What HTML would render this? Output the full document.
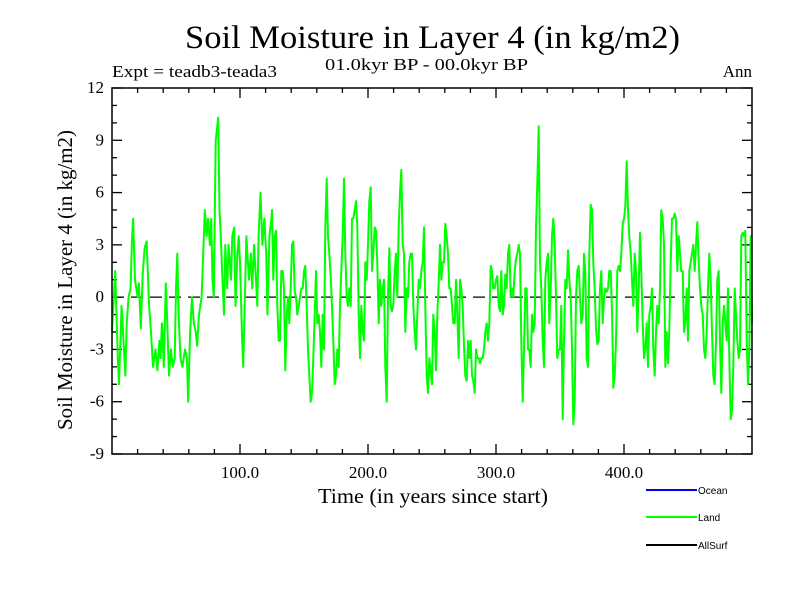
<!DOCTYPE html>
<html><head><meta charset="utf-8"><style>
body{margin:0;background:#fff;}
svg{display:block;font-family:"Liberation Serif",serif;}
</style></head><body>
<svg id="chart" width="800" height="600" viewBox="0 0 800 600" xmlns="http://www.w3.org/2000/svg">
<rect width="800" height="600" fill="#fff"/>
<text x="185" y="48" font-size="33" textLength="495" lengthAdjust="spacingAndGlyphs">Soil Moisture in Layer 4 (in kg/m2)</text>
<text x="325" y="70" font-size="17" textLength="203" lengthAdjust="spacingAndGlyphs">01.0kyr BP - 00.0kyr BP</text>
<text x="112" y="77" font-size="17" textLength="165" lengthAdjust="spacingAndGlyphs">Expt = teadb3-teada3</text>
<text x="752" y="77" font-size="17" text-anchor="end">Ann</text>
<text x="318" y="503" font-size="21" textLength="230" lengthAdjust="spacingAndGlyphs">Time (in years since start)</text>
<text transform="translate(72,430) rotate(-90)" font-size="21" textLength="300" lengthAdjust="spacingAndGlyphs">Soil Moisture in Layer 4 (in kg/m2)</text>
<g id="axes"></g>
<line id="zero" stroke="#000" stroke-width="1.2" stroke-dasharray="12,7"/>
<path id="land" fill="none" stroke="#00ff00" stroke-width="2" stroke-linejoin="round"/>
<rect x="112" y="88" width="640" height="366" fill="none" stroke="#000" stroke-width="1.5"/>
<g font-family="Liberation Sans, sans-serif" font-size="10">
<g><line x1="646" y1="490" x2="697" y2="490" stroke="#0000ff" stroke-width="2"/><text x="698" y="494">Ocean</text></g>
<g><line x1="646" y1="517" x2="697" y2="517" stroke="#00ff00" stroke-width="2"/><text x="698" y="521">Land</text></g>
<g><line x1="646" y1="545" x2="697" y2="545" stroke="#000" stroke-width="2"/><text x="698" y="549">AllSurf</text></g>
</g>
</svg>
<script>
const yTicks=[-9,-6,-3,0,3,6,9,12];
const xTicks=[100,200,300,400];
const xTickLabels=["100.0","200.0","300.0","400.0"];
const seg1Years=[0,2.5,4.5,5.5,7.5,9,10.5,11.5,13,14.5,15.5,16.5,18,20,21,22.5,24,25.5,27,28,29,30.5,32,34,35.5,37,38,39,40.5,42,43,44.5,46,47.5,49,50,51,52,53.5,55,57,58.5,59.5,61,62.5,64,65.5,66.5,68,70,71,72.5,74,75,76.5,77.5,78.5,79.5,81,83,84,85,86,87.5,88.5,90,91,92,93,94,95.5,96.5,98,99,100,101.5,102.5,103.5,105,107,108.5,109.5,111,112.5,113.5,114.5,116,117.5,119,120.5,121.5,123,124.5];
const seg1Values=[-2,1.5,-3.5,-5,-0.5,-2.5,-4.5,-1.5,0,0.5,3,4.5,1,0,0.8,-1.8,1.3,2.8,3.2,1.5,-0.5,-2,-4,-3,-4.2,-2.5,-3.5,-1.5,-4,0.8,-1,-4.5,-3,-4,-3.5,0.5,2.5,-1,-3.5,-4,-3,-3.5,-6,-2,0,-1.5,-2,-2.8,-1,0,2,5,3.5,4.5,3,4.5,1,0,9,10.3,5,3.5,1.5,-1,3,0.5,3,2,1,3.5,4,-0.5,2.5,3.5,2,-2,-4,-1,3.5,1,2.5,0.5,3,1,-0.5,3.5,6,3,4.5,2.5,-1,3.5,4.5];
const stepYears=1.0417;
const seg2Start=125, seg3Start=250, seg4Start=375;
const seg2Values=[5,1,3.5,3.8,-0.5,-2.5,-2.5,1.5,1.5,0.5,-4.2,-1,0,-1.5,0.5,3,3.2,0.3,0,-1,-0.5,0,0.5,0.5,1.5,1.8,-0.5,-3,-4.5,-6,-5.5,-3.5,-1,1.5,-1.5,-1,-2,-4,-1,-3,4,6.8,3.5,2.5,1.2,-0.5,-2.5,-5,-4.5,-3,-4,-0.5,1.5,3.5,6.8,2.5,0,-0.5,0.5,-0.5,4.5,4.5,5,5.5,4,-1,-3.5,-0.5,-2,-2.5,2,1,3,5.5,6.3,1.5,2.5,4,3.8,2,-1.5,1,-0.5,0.5,1,-4,-6,0,2.8,-0.5,-0.8,-0.5,1.5,2.5,0,4,6,7.3,3,2.5,-2,0.5,0,2,2.5,2.5,-0.5,-2,-3,-1,1,0.5,1.5,2,4,-0.5,-4.5,-5.5,-3.5];
const seg3Values=[-5,-1,-2,-4.2,-1,0.8,3,1,2,2,4.2,3.5,2.5,0.5,0.5,-0.5,-1.5,-1.5,1,-1,-3.5,1,0.5,-0.5,-2.8,-4.5,-4.8,-2.5,-3.5,-2.5,-4.5,-4.8,-5.5,-3,-3.5,-3.5,-3.8,-3.5,-3.5,-3,-2,-1.5,-2.5,-1.5,1.8,1.5,0.5,0.5,1,1.2,-0.5,-0.8,1.5,-1,-0.5,1.3,0.5,2.5,3,0,0.5,0,1.5,2.2,2.5,3,2.5,-2.5,-6,-3,0.5,0.5,-3,-3,-4,-1,-2,-1.5,4,6.5,9.8,2,0.5,-2.5,-4,1,2,2.5,-1.5,0.5,3.5,4.5,3,0,-3.5,-3,-3,-0.5,-7,-2.5,1,0.5,2.7,1,0,-3,-7.3,-6,0,1.5,1.8,0,-1.5,-1,2.5,1.5,-3.5,-4,2.5,5.3];
const seg4Values=[5,2,0.5,-1.8,-2.7,-2.5,0.5,1.5,-1.5,0,0.5,0.3,0.5,1.5,1.5,-0.8,-5.2,-4.5,-2.5,1.5,1.8,1.5,2.5,4.2,4.5,5.2,7.8,5,3.5,2.5,1,-0.5,2.5,1.5,-2,0.5,3.7,1.5,-1.5,-3.5,-3,-1.5,-4,-1,-0.5,0.5,-3,-4.5,-2,-0.5,-1.5,0.5,5,4.5,3,-4,-2,-3.8,-2,2,4.5,4.5,4.8,4.5,1.5,3.5,2.5,1.5,1.5,-2,-1.5,0.5,-2.5,1.5,2,2.5,3,1.5,3,4.3,2,0.5,-0.5,-1,-3,-3.5,-2,0.5,2.5,1,-2,-4.5,-5,-2.5,1,1.5,-2.5,-5.5,-1.5,-0.5,-1.5,-2.5,0.5,-3.5,-7,-6.5,-4,0.5,-1,-2.5,-3.5,-3,3.5,3.7,3.5,3.8,-2.5,-5,-3,3.5,-1.5];

const X0=112,X1=752,Y0=454,Y1=88,XMIN=0,XMAX=500,YMIN=-9,YMAX=12;
function xs(v){return X0+(v-XMIN)/(XMAX-XMIN)*(X1-X0);}
function ys(v){return Y0-(v-YMIN)/(YMAX-YMIN)*(Y0-Y1);}
const NS="http://www.w3.org/2000/svg";
const axes=document.getElementById('axes');
function ln(x1,y1,x2,y2,name){const l=document.createElementNS(NS,'line');l.setAttribute('x1',x1);l.setAttribute('y1',y1);l.setAttribute('x2',x2);l.setAttribute('y2',y2);l.setAttribute('stroke','#000');l.setAttribute('stroke-width','1.3');


axes.appendChild(l);}
function tx(x,y,s,anchor,name){const t=document.createElementNS(NS,'text');t.setAttribute('x',x);t.setAttribute('y',y);t.setAttribute('font-size','17');t.setAttribute('text-anchor',anchor);t.textContent=s;


axes.appendChild(t);}
for(let v=YMIN;v<=YMAX;v++){const major=yTicks.includes(v);const L=major?10:5;const y=ys(v);
ln(X0,y,X0+L,y,'y-tick');ln(X1-L,y,X1,y,'y-tick-right');}
yTicks.forEach(v=>tx(X0-8,ys(v)+5,String(v),'end','y-tick-label'));
for(let v=20;v<XMAX;v+=20){const major=xTicks.includes(v);const L=major?10:5;const x=xs(v);
ln(x,Y0,x,Y0-L,'x-tick');ln(x,Y1,x,Y1+L,'x-tick-top');}
xTicks.forEach((v,i)=>tx(xs(v),Y0+24,xTickLabels[i],'middle','x-tick-label'));
const z=document.getElementById('zero');z.setAttribute('x1',X0);z.setAttribute('x2',X1);z.setAttribute('y1',ys(0));z.setAttribute('y2',ys(0));
const pts=[];
seg1Years.forEach((yr,i)=>pts.push([yr,seg1Values[i]]));
[[seg2Start,seg2Values],[seg3Start,seg3Values],[seg4Start,seg4Values]].forEach(([s,arr])=>arr.forEach((v,i)=>pts.push([Math.min(XMAX,s+i*stepYears),v])));
document.getElementById('land').setAttribute('d',pts.map((p,i)=>(i?'L':'M')+xs(p[0]).toFixed(1)+','+ys(p[1]).toFixed(1)).join(''));
</script>
</body></html>
